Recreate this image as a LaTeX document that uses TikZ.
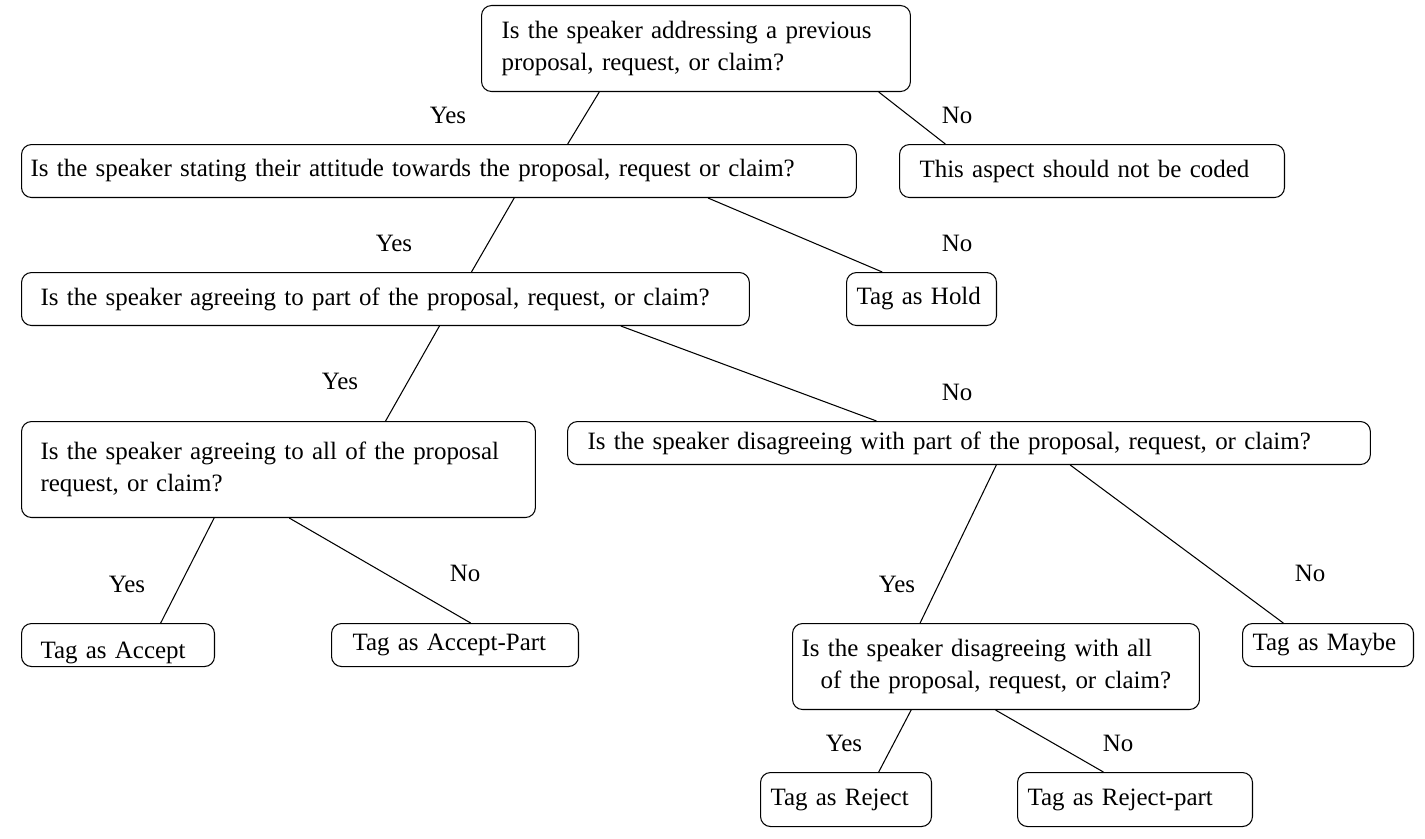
\documentclass[tikz,border=0pt]{standalone}
\usepackage{fontspec}
\setmainfont{Liberation Serif}
\usetikzlibrary{calc}

\begin{document}
\begin{tikzpicture}[
		x=0.02cm, y=-0.02cm,
		box/.style={
			draw, line width=0.6pt, rectangle, rounded corners=5.7pt,
			anchor=north west, align=left, inner ysep=2pt,
			font=\fontsize{14.2}{18.2}\selectfont
		},
		lbl/.style={font=\fontsize{14.2}{18.2}\selectfont},
		link/.style={line width=0.6pt},
		]
		
		\useasboundingbox (0,0) rectangle (1425,838);
		
		\node[box, text width=7.78cm, inner xsep=0.40cm, minimum height=1.72cm] (addr) at (481,5)
			{Is the speaker addressing a previous\\proposal, request, or claim?};
		\node[box, text width=6.9cm, inner xsep=0.40cm, minimum height=1.06cm] (nocode) at (899,144)
			{This aspect should not be coded};
		\node[box, text width=16.34cm, inner xsep=0.18cm, minimum height=1.06cm] (attit) at (21,144)
			{Is the speaker stating their attitude towards the proposal, request or claim?};
		\node[box, text width=2.6cm, inner xsep=0.20cm, minimum height=1.06cm] (hold) at (846,272)
			{Tag as Hold};
		\node[box, text width=13.8cm, inner xsep=0.38cm, minimum height=1.06cm] (agrpart) at (21,272)
			{Is the speaker agreeing to part of the proposal, request, or claim?};
		\node[box, text width=9.52cm, inner xsep=0.38cm, minimum height=1.92cm] (agrall) at (21,421)
			{Is the speaker agreeing to all of the proposal\\request, or claim?};
		\node[box, text width=15.26cm, inner xsep=0.40cm, minimum height=0.86cm] (dispart) at (567,421)
			{Is the speaker disagreeing with part of the proposal, request, or claim?};
		\node[box, text width=3.1cm, inner xsep=0.38cm, minimum height=0.86cm] (accept) at (21,623)
			{\raisebox{-0.16cm}[\height][\depth]{Tag as Accept}};
		\node[box, text width=4.1cm, inner xsep=0.42cm, minimum height=0.86cm] (acceptp) at (331,623)
			{Tag as Accept-Part};
		\node[box, text width=7.78cm, inner xsep=0.18cm, minimum height=1.72cm] (disall) at (792,623)
			{Is the speaker disagreeing with all\\\hspace{0.38cm}of the proposal, request, or claim?};
		\node[box, text width=3.02cm, inner xsep=0.20cm, minimum height=0.86cm] (maybe) at (1242,623)
			{Tag as Maybe};
		\node[box, text width=3.02cm, inner xsep=0.20cm, minimum height=1.08cm] (reject) at (760,772)
			{Tag as Reject};
		\node[box, text width=4.3cm, inner xsep=0.20cm, minimum height=1.08cm] (rejectp) at (1017,772)
			{Tag as Reject-part};
		
		\draw[link] ($(addr.south west)!0.275!(addr.south east)$) -- ($(attit.north west)!0.654!(attit.north east)$);
		\draw[link] ($(addr.south west)!0.925!(addr.south east)$) -- ($(nocode.north west)!0.12!(nocode.north east)$);
		\draw[link] ($(attit.south west)!0.59!(attit.south east)$) -- ($(agrpart.north west)!0.618!(agrpart.north east)$);
		\draw[link] ($(attit.south west)!0.822!(attit.south east)$) -- ($(hold.north west)!0.24!(hold.north east)$);
		\draw[link] ($(agrpart.south west)!0.574!(agrpart.south east)$) -- ($(agrall.north west)!0.708!(agrall.north east)$);
		\draw[link] ($(agrpart.south west)!0.823!(agrpart.south east)$) -- ($(dispart.north west)!0.385!(dispart.north east)$);
		\draw[link] ($(agrall.south west)!0.375!(agrall.south east)$) -- ($(accept.north west)!0.72!(accept.north east)$);
		\draw[link] ($(agrall.south west)!0.521!(agrall.south east)$) -- ($(acceptp.north west)!0.563!(acceptp.north east)$);
		\draw[link] ($(dispart.south west)!0.534!(dispart.south east)$) -- ($(disall.north west)!0.314!(disall.north east)$);
		\draw[link] ($(dispart.south west)!0.626!(dispart.south east)$) -- ($(maybe.north west)!0.24!(maybe.north east)$);
		\draw[link] ($(disall.south west)!0.292!(disall.south east)$) -- ($(reject.north west)!0.69!(reject.north east)$);
		\draw[link] ($(disall.south west)!0.499!(disall.south east)$) -- ($(rejectp.north west)!0.366!(rejectp.north east)$);
		
		\node[lbl] (y1) at (448,115) {Yes};
		\node[lbl] (n1) at (957,115) {No};
		\node[lbl] (y2) at (394,243) {Yes};
		\node[lbl] (n2) at (957,243) {No};
		\node[lbl] (y3) at (340,381) {Yes};
		\node[lbl] (n3) at (957,392) {No};
		\node[lbl] (y4) at (127,584) {Yes};
		\node[lbl] (n4) at (465,573) {No};
		\node[lbl] (y5) at (897,584) {Yes};
		\node[lbl] (n5) at (1310,573) {No};
		\node[lbl] (y6) at (844,743) {Yes};
		\node[lbl] (n6) at (1118,743) {No};
		
	\end{tikzpicture}
\end{document}
